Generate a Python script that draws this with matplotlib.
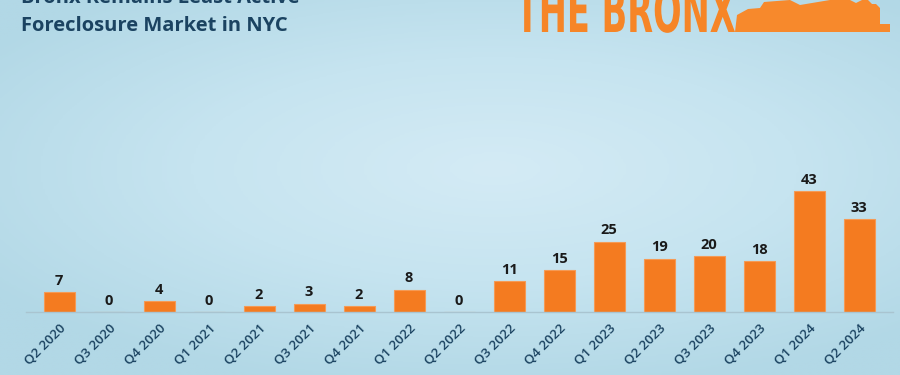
import numpy as np
import matplotlib.pyplot as plt
from matplotlib.colors import LinearSegmentedColormap
from matplotlib.textpath import TextPath
from matplotlib.font_manager import FontProperties
from matplotlib.patches import PathPatch
from matplotlib.transforms import Affine2D

quarters = ["Q2 2020", "Q3 2020", "Q4 2020", "Q1 2021", "Q2 2021", "Q3 2021",
            "Q4 2021", "Q1 2022", "Q2 2022", "Q3 2022", "Q4 2022", "Q1 2023",
            "Q2 2023", "Q3 2023", "Q4 2023", "Q1 2024", "Q2 2024"]
counts = [7, 0, 4, 0, 2, 3, 2, 8, 0, 11, 15, 25, 19, 20, 18, 43, 33]

bar_col = "#f47b20"
navy = "#1b4361"

fig = plt.figure(figsize=(9, 3.75), dpi=100)

# background in pixel coordinates (y down)
bg = fig.add_axes([0, 0, 1, 1], zorder=0)
yy, xx = np.mgrid[0:1:200j, 0:1:400j]
d = np.sqrt(((xx - 0.55) / 0.9) ** 2 + ((yy - 0.45) / 0.8) ** 2)
cmap = LinearSegmentedColormap.from_list("bg", ["#d4ebf5", "#c6e4f0", "#b2d8e6"])
bg.imshow(d, cmap=cmap, aspect="auto", extent=[0, 900, 375, 0], vmin=0, vmax=0.75)
bg.set_xlim(0, 900)
bg.set_ylim(375, 0)
bg.axis("off")

# title (first line is cropped off the top)
fig.text(21 / 900, 1 - 3 / 375, "Bronx Remains Least Active", fontsize=14.5,
         fontweight="bold", color=navy, family="Open Sans", va="baseline")
fig.text(21 / 900, 1 - 31 / 375, "Foreclosure Market in NYC", fontsize=14.5,
         fontweight="bold", color=navy, family="Open Sans", va="baseline")

# logo: condensed "THE BRONX", cropped at the top
tp = TextPath((0, 0), "THE BRONX", size=1,
              prop=FontProperties(family="DejaVu Sans", weight="bold"))
bb = tp.get_extents()
tr = Affine2D().translate(-bb.x0, 0).scale(219 / bb.width, -46 / bb.height).translate(516, 32)
bg.add_patch(PathPatch(tr.transform_path(tp), color="#f68527", lw=0))
sky_x = [735, 737, 748, 760, 764, 790, 800, 830, 850, 856, 862, 868, 872,
         876, 880, 880, 890, 890]
sky_y = [32, 15, 9, 8, 2, 0, 5, 0, 0, 3, 0, 0, 4, 4, 8, 24, 24, 32]
bg.fill(sky_x, sky_y, color="#f7892c", lw=0)

ax = fig.add_axes([26 / 900, 1 - 312 / 375, 867 / 900, 142 / 375], zorder=1)
ax.patch.set_alpha(0)
x = np.arange(len(quarters))
ax.bar(x, counts, width=0.62, color=bar_col, edgecolor="#f59a55", linewidth=0.8)
for xi, v in zip(x, counts):
    ax.text(xi, v + 1.5, str(v), ha="center", va="bottom", fontsize=10.5,
            fontweight="bold", color="#1a1a1a", family="Open Sans")

ax.set_xlim(-0.66, 16.68)
ax.set_ylim(0, 50.5)
ax.set_xticks(x)
ax.set_xticklabels(quarters, rotation=45, ha="right", rotation_mode="anchor",
                   fontsize=9.5, color=navy, family="Open Sans", fontweight="semibold")
ax.tick_params(axis="x", length=0, pad=7)
ax.set_yticks([])
for s in ["top", "left", "right"]:
    ax.spines[s].set_visible(False)
ax.spines["bottom"].set_color("#a9c4d0")
ax.spines["bottom"].set_linewidth(1)

fig.savefig("out.png", dpi=100)
